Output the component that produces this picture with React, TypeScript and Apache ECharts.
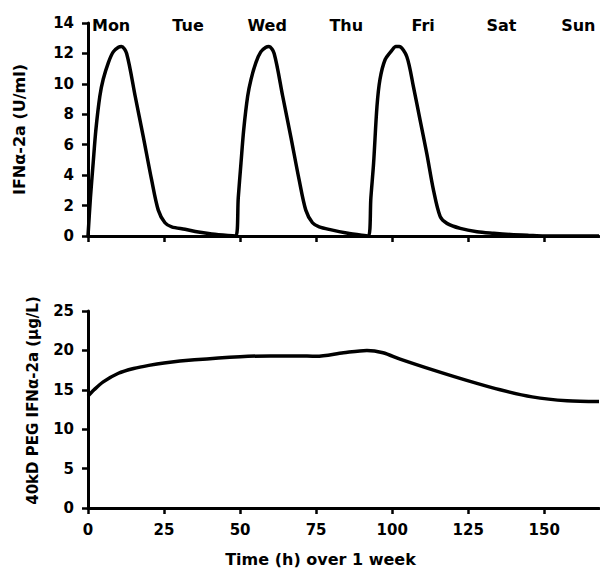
import React, { useEffect, useRef } from "react";
import * as echarts from "echarts";

// Tick positions (hours) and day labels
const xTicks = [0, 25, 50, 75, 100, 125, 150];
const dayNames = ["Mon", "Tue", "Wed", "Thu", "Fri", "Sat", "Sun"];
const dayHours = [7.6, 32.9, 58.9, 84.9, 110.2, 135.9, 161.2];

// IFNα-2a (U/ml) — three dosing pulses: [hour, value]
const pulseMon: number[][] = [
  [0, 0], [0.8, 2.5], [1.7, 4.8], [2.6, 7], [3.9, 9.2], [5, 10.3], [6.7, 11.4],
  [8.3, 12.1], [10, 12.4], [11, 12.45], [12.7, 12], [15.5, 9.2], [18.2, 6.5],
  [20.9, 3.7], [23.1, 1.7], [25.3, 0.87], [27.5, 0.6], [31.9, 0.44], [36.3, 0.26],
  [40.7, 0.13], [46, 0.03],
];
const pulseWed: number[][] = [
  [48.6, 0], [49.4, 2.5], [50.3, 4.8], [51.2, 7], [52.5, 9.2], [53.6, 10.3],
  [55.2, 11.4], [56.8, 12.1], [58.5, 12.4], [59.5, 12.45], [61.2, 12], [64, 9.2],
  [66.7, 6.5], [69.4, 3.7], [71.6, 1.7], [73.8, 0.87], [76, 0.6], [80, 0.4],
  [85, 0.2], [90, 0.05],
];
const pulseFri: number[][] = [
  [92.2, 0], [93, 2.5], [93.9, 4.8], [95, 8.5], [96, 10.3], [97.7, 11.6],
  [99.9, 12.2], [101.2, 12.45], [102.3, 12.45], [104.8, 11.8], [107, 9.8],
  [109.2, 7.6], [111.4, 5.4], [113.6, 3.0], [115.8, 1.27], [118, 0.83],
  [122.4, 0.5], [127.9, 0.28], [133.4, 0.18], [138.9, 0.1], [145, 0.04],
  [150, 0], [168, 0],
];

// 40kD PEG IFNα-2a (μg/L)
const pegHours = [0, 2, 5, 10, 15, 20, 25, 35, 50, 60, 69, 75, 84, 91.7, 97, 102.6, 113.6, 124.5, 135.5, 146, 157.5, 168];
const pegValues = [14.2, 15.0, 16.0, 17.1, 17.7, 18.1, 18.4, 18.8, 19.2, 19.3, 19.3, 19.25, 19.7, 20.0, 19.7, 18.9, 17.5, 16.2, 15.0, 14.1, 13.6, 13.5];

const FONT = "DejaVu Sans, Liberation Sans, Arial, sans-serif";

export default function App() {
  const ref = useRef<HTMLDivElement>(null);
  useEffect(() => {
    if (!ref.current) return;
    const chart = echarts.init(ref.current, null, { renderer: "svg" });
    const txt = { color: "#000", fontFamily: FONT, fontWeight: "bold" as const, fontSize: 15 };
    const axisLine = { show: true, lineStyle: { color: "#000", width: 3 } };
    const tick = { show: true, inside: false, length: 6, lineStyle: { color: "#000", width: 2.5 } };

    const ifnData = [...pulseMon, ...pulseWed, ...pulseFri];
    const pegData = pegHours.map((h, i) => [h, pegValues[i]]);

    chart.setOption({
      animation: false,
      backgroundColor: "#fff",
      grid: [
        { left: 88, right: 1, top: 23, height: 213 },
        { left: 88, right: 1, top: 311, height: 197 },
      ],
      xAxis: [
        {
          gridIndex: 0, type: "value", min: 0, max: 168, position: "bottom",
          axisLine, axisTick: { ...tick, customValues: xTicks },
          axisLabel: { show: false }, splitLine: { show: false },
        },
        {
          gridIndex: 0, type: "value", min: 0, max: 168, position: "top",
          axisLine: { show: false }, axisTick: { show: false }, splitLine: { show: false },
          axisLabel: {
            ...txt, fontSize: 16, customValues: dayHours, margin: -2, verticalAlign: "middle",
            formatter: (v: number) => {
              const i = dayHours.findIndex((h) => Math.abs(h - v) < 0.01);
              return i >= 0 ? dayNames[i] : "";
            },
          },
        },
        {
          gridIndex: 1, type: "value", min: 0, max: 168, position: "bottom",
          axisLine, axisTick: { ...tick, customValues: xTicks },
          axisLabel: { ...txt, customValues: xTicks, margin: 14 },
          splitLine: { show: false },
          name: "Time (h) over 1 week", nameLocation: "middle", nameGap: 43,
          nameTextStyle: { ...txt, fontSize: 16, padding: [0, 46, 0, 0] },
        },
      ],
      yAxis: [
        {
          gridIndex: 0, type: "value", min: 0, max: 14, interval: 2,
          axisLine, axisTick: tick, splitLine: { show: false },
          axisLabel: { ...txt, margin: 14 },
          name: "IFNα-2a (U/ml)", nameLocation: "middle", nameGap: 61,
          nameTextStyle: { ...txt, fontSize: 16 },
        },
        {
          gridIndex: 1, type: "value", min: 0, max: 25, interval: 5,
          axisLine, axisTick: tick, splitLine: { show: false },
          axisLabel: { ...txt, margin: 14 },
          name: "40kD PEG IFNα-2a (μg/L)", nameLocation: "middle", nameGap: 48,
          nameTextStyle: { ...txt, padding: [0, 0, 0, 18] },
        },
      ],
      series: [
        {
          type: "line", xAxisIndex: 0, yAxisIndex: 0, data: ifnData,
          smooth: 0.3, showSymbol: false, symbol: "none",
          lineStyle: { color: "#000", width: 3.5 }, z: 1,
        },
        {
          type: "line", xAxisIndex: 2, yAxisIndex: 1, data: pegData,
          smooth: 0.3, showSymbol: false, symbol: "none",
          lineStyle: { color: "#000", width: 3.5 }, z: 1,
        },
      ],
    });
    return () => chart.dispose();
  }, []);
  return (
    <div
      ref={ref}
      style={{ position: "absolute", left: 0, top: 0, width: 600, height: 570 }}
    />
  );
}
